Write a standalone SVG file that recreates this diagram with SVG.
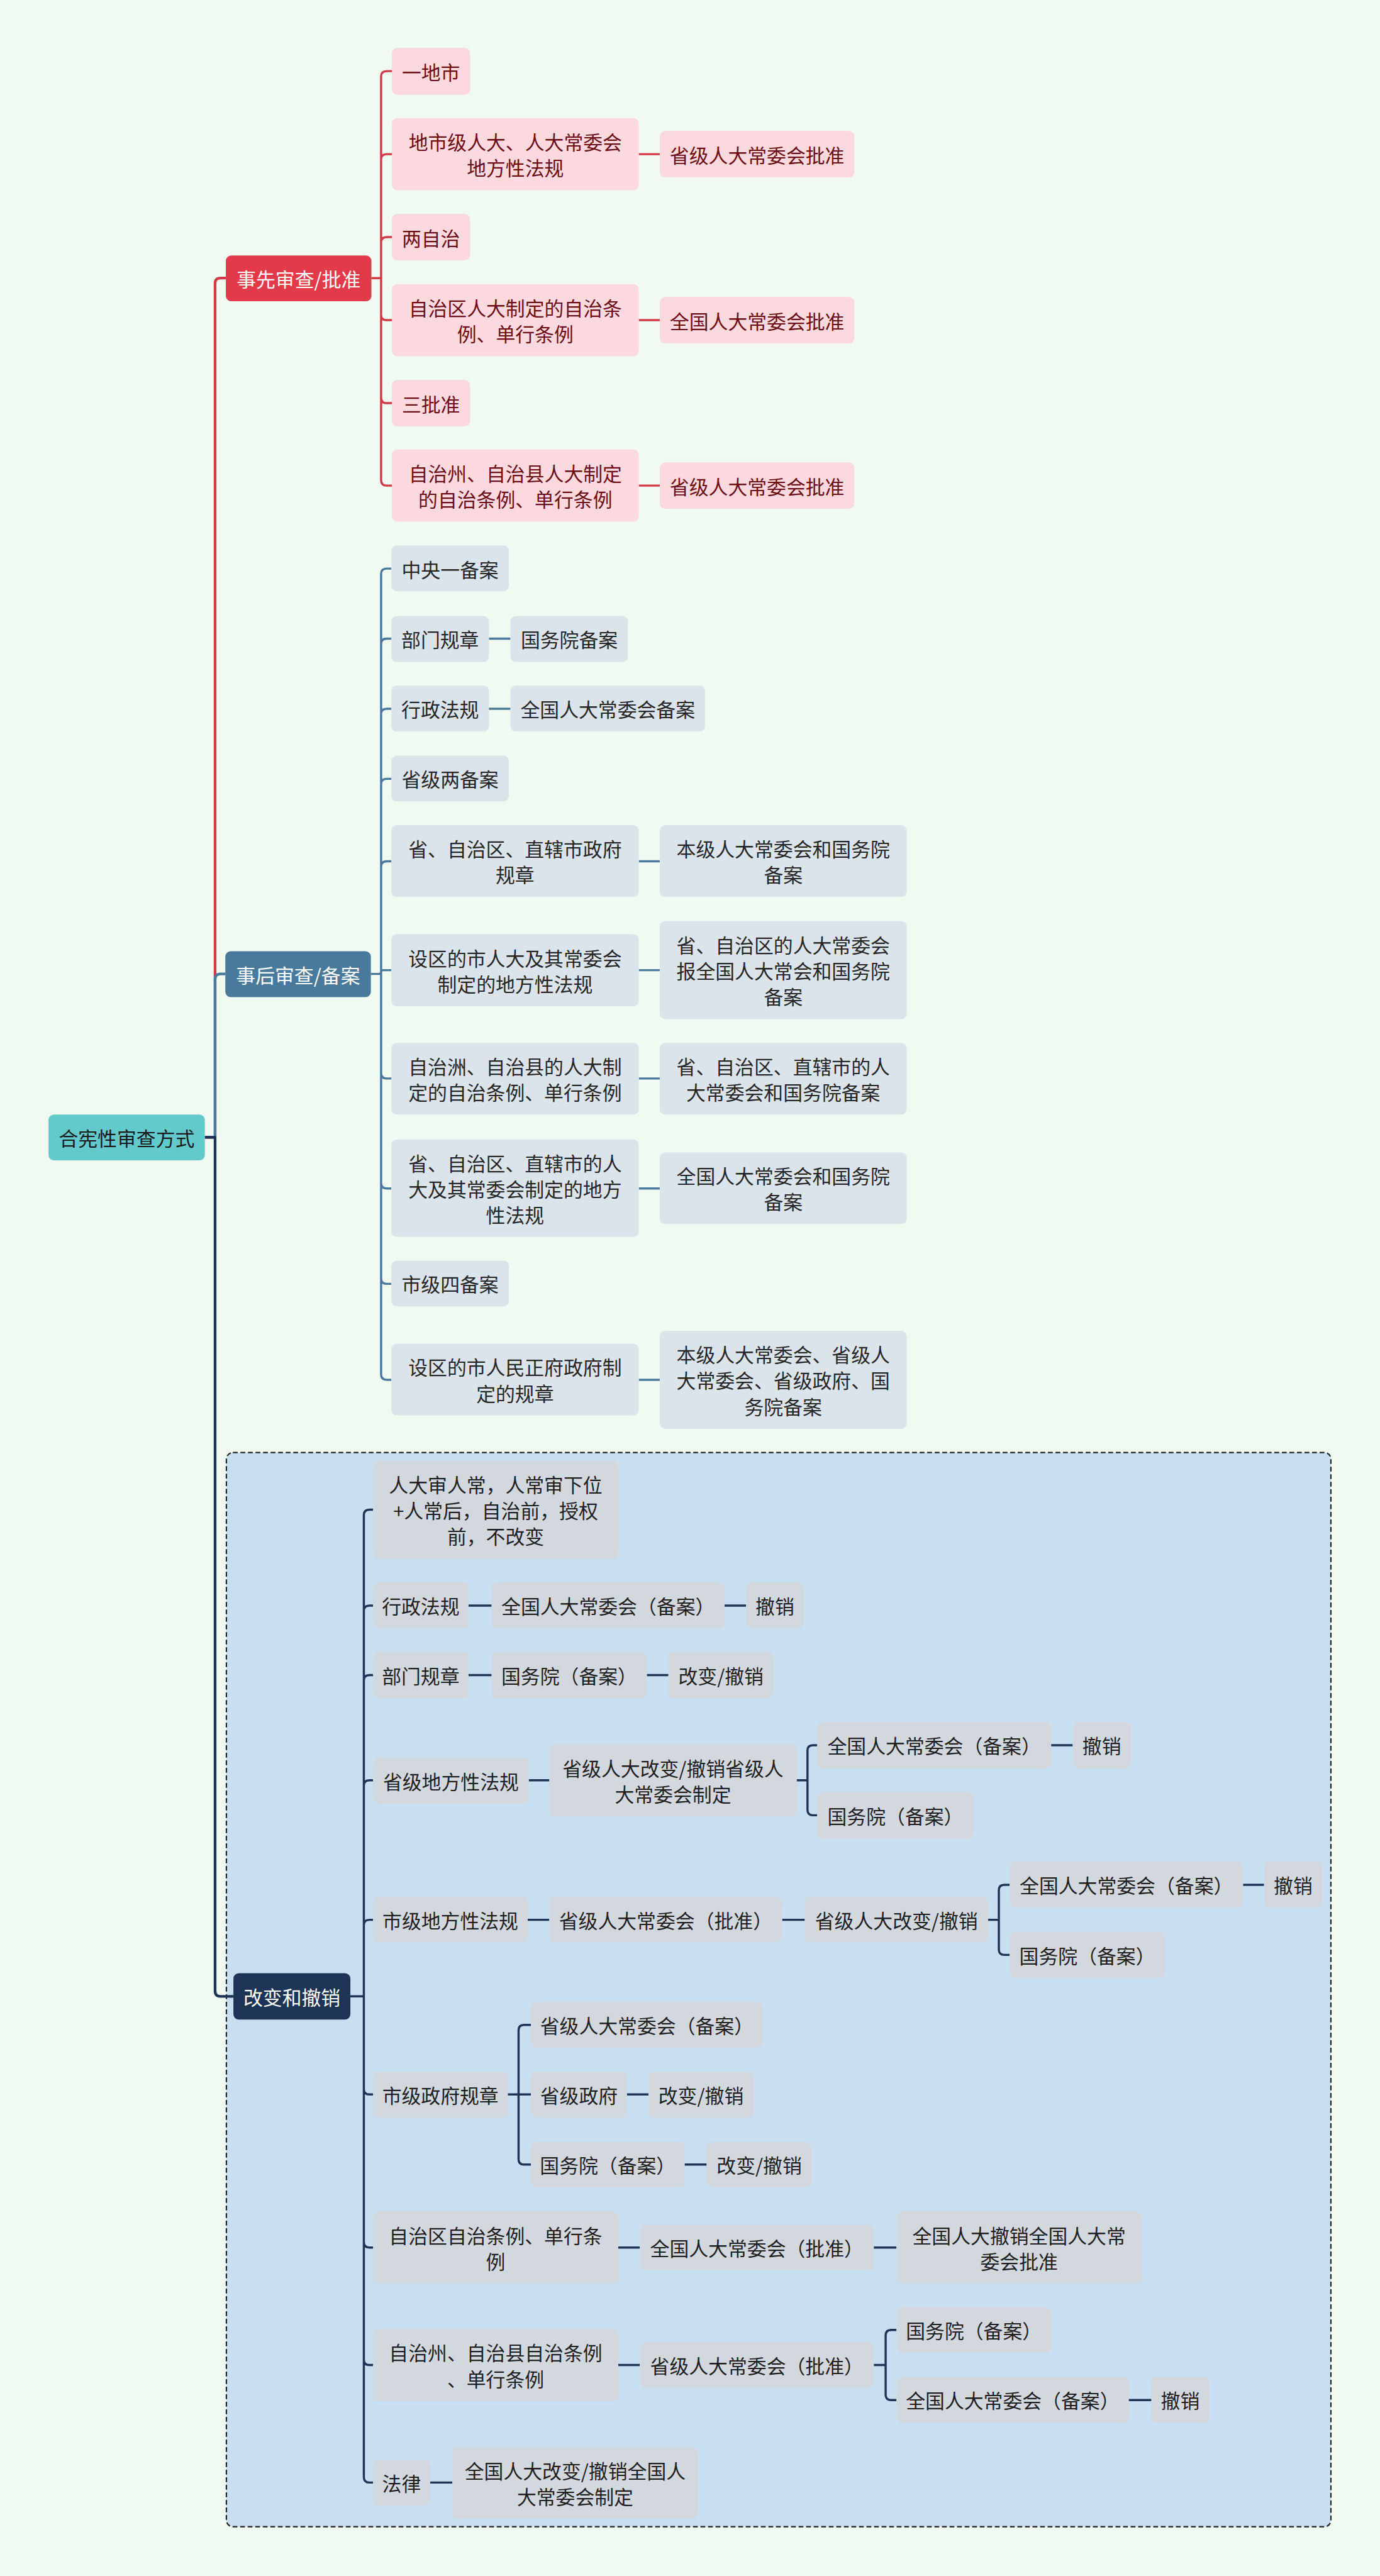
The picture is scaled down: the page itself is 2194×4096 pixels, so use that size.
<svg xmlns="http://www.w3.org/2000/svg" width="2194" height="4096" viewBox="0 0 2194 4096">
<style>
text{font-family:"Noto Sans CJK SC","Noto Sans",sans-serif;font-size:36px;text-anchor:middle;dominant-baseline:central}
.rt rect{fill:#63CACC}
.rt text{fill:#1a1a1a}
.m1 rect{fill:#E23A4A}
.m2 rect{fill:#4A7A9B}
.m3 rect{fill:#1D3456}
.m1 text,.m2 text,.m3 text{fill:#ffffff}
.pk rect{fill:#FBD9DE}
.pk text{fill:#6B0E16}
.bl rect{fill:#DCE4EB}
.bl text{fill:#262626}
.gr rect{fill:#D3D8DF}
.gr text{fill:#1f1f1f}
.c{fill:none;stroke-linecap:butt;stroke-linejoin:round}
.cr{stroke:#D33A48}
.cb{stroke:#4A7A9B}
.cn{stroke:#1D3456}
</style>
<rect x="0" y="0" width="2194" height="4096" fill="#F0FAF0"/>
<g transform="scale(0.857)">
<rect id="boundary" x="420" y="2695" width="2049" height="1993" rx="12" fill="#C8DFF1" stroke="#222" stroke-width="2.5" stroke-dasharray="9 5"/>
<g id="connectors">
<path class="c cr" stroke-width="5" d="M380 2110 H399 V526 Q399 516 409 516 H419"/>
<path class="c cb" stroke-width="5" d="M380 2110 H399 V1817 Q399 1807 409 1807 H418"/>
<path class="c cn" stroke-width="5" d="M380 2110 H399 V3694 Q399 3704 409 3704 H433"/>
<path class="c cr" stroke-width="4" d="M689 516 H707 V142 Q707 132 717 132 H727 M689 516 H707 V296 Q707 286 717 286 H727 M689 516 H707 V450 Q707 440 717 440 H727 M689 516 H707 V584 Q707 594 717 594 H727 M689 516 H707 V738 Q707 748 717 748 H727 M689 516 H707 V891 Q707 901 717 901 H727 M1185 286 H1224 M1185 594 H1224 M1185 901 H1224"/>
<path class="c cb" stroke-width="4" d="M688 1807 H707 V1065 Q707 1055 717 1055 H726 M688 1807 H707 V1195 Q707 1185 717 1185 H726 M688 1807 H707 V1325 Q707 1315 717 1315 H726 M688 1807 H707 V1455 Q707 1445 717 1445 H726 M688 1807 H707 V1608 Q707 1598 717 1598 H726 M688 1807 H703 Q707 1807 707 1803 Q707 1800 711 1800 H726 M688 1807 H707 V1991 Q707 2001 717 2001 H726 M688 1807 H707 V2195 Q707 2205 717 2205 H726 M688 1807 H707 V2372 Q707 2382 717 2382 H726 M688 1807 H707 V2550 Q707 2560 717 2560 H726 M907 1185 H947 M907 1315 H947 M1185 1598 H1224 M1185 1800 H1224 M1185 2001 H1224 M1185 2205 H1224 M1185 2560 H1224"/>
<path class="c cn" stroke-width="4" d="M650 3704 H675 V2811 Q675 2801 685 2801 H692 M650 3704 H675 V2989 Q675 2979 685 2979 H692 M650 3704 H675 V3118 Q675 3108 685 3108 H692 M650 3704 H675 V3313 Q675 3303 685 3303 H692 M650 3704 H675 V3572 Q675 3562 685 3562 H692 M650 3704 H675 V3876 Q675 3886 685 3886 H692 M650 3704 H675 V4160 Q675 4170 685 4170 H692 M650 3704 H675 V4378 Q675 4388 685 4388 H692 M650 3704 H675 V4596 Q675 4606 685 4606 H692"/>
<path class="c cn" stroke-width="4" d="M869 2979 H912 M1344 2979 H1384 M869 3108 H912 M1200 3108 H1240 M981 3303 H1019 M1478 3303 H1498 V3248 Q1498 3238 1508 3238 H1516 M1478 3303 H1498 V3358 Q1498 3368 1508 3368 H1516 M1950 3238 H1990 M979 3562 H1019 M1451 3562 H1493 M1833 3562 H1853 V3507 Q1853 3497 1863 3497 H1873 M1833 3562 H1853 V3617 Q1853 3627 1863 3627 H1873 M2306 3497 H2345 M942 3886 H962 V3767 Q962 3757 972 3757 H985 M942 3886 H985 M942 3886 H962 V4006 Q962 4016 972 4016 H985 M1163 3886 H1203 M1270 4016 H1311 M1147 4170 H1187 M1621 4170 H1663 M1147 4388 H1187 M1621 4388 H1643 V4333 Q1643 4323 1653 4323 H1663 M1621 4388 H1643 V4443 Q1643 4453 1653 4453 H1663 M2094 4453 H2136 M798 4606 H839"/>
</g>
<g id="root" class="rt"><rect x="90" y="2068" width="290" height="85" rx="10"/><text x="235" y="2110.5">合宪性审查方式</text></g>
<g id="n1" class="m1"><rect x="419" y="474" width="270" height="85" rx="10"/><text x="554" y="516.5">事先审查/批准</text></g>
<g id="n2" class="m2"><rect x="418" y="1765" width="270" height="85" rx="10"/><text x="553" y="1807.5">事后审查/备案</text></g>
<g id="n3" class="m3"><rect x="433" y="3661" width="217" height="86" rx="10"/><text x="541.5" y="3704">改变和撤销</text></g>

<g id="a1" class="pk"><rect x="727" y="89" width="145" height="87" rx="10"/><text x="799.5" y="132.5">一地市</text></g>
<g id="a2" class="pk"><rect x="727" y="219" width="458" height="134" rx="10"/><text x="956" y="262">地市级人大、人大常委会</text><text x="956" y="310">地方性法规</text></g>
<g id="a2r" class="pk"><rect x="1224" y="243" width="361" height="86" rx="10"/><text x="1404.5" y="286">省级人大常委会批准</text></g>
<g id="a3" class="pk"><rect x="727" y="397" width="145" height="86" rx="10"/><text x="799.5" y="440">两自治</text></g>
<g id="a4" class="pk"><rect x="727" y="527" width="458" height="134" rx="10"/><text x="956" y="570">自治区人大制定的自治条</text><text x="956" y="618">例、单行条例</text></g>
<g id="a4r" class="pk"><rect x="1224" y="551" width="361" height="86" rx="10"/><text x="1404.5" y="594">全国人大常委会批准</text></g>
<g id="a5" class="pk"><rect x="727" y="705" width="145" height="86" rx="10"/><text x="799.5" y="748">三批准</text></g>
<g id="a6" class="pk"><rect x="727" y="834" width="458" height="134" rx="10"/><text x="956" y="877">自治州、自治县人大制定</text><text x="956" y="925">的自治条例、单行条例</text></g>
<g id="a6r" class="pk"><rect x="1224" y="858" width="361" height="86" rx="10"/><text x="1404.5" y="901">省级人大常委会批准</text></g>

<g id="b1" class="bl"><rect x="726" y="1012" width="218" height="85" rx="10"/><text x="835" y="1055">中央一备案</text></g>
<g id="b2" class="bl"><rect x="726" y="1143" width="181" height="85" rx="10"/><text x="816.5" y="1185.5">部门规章</text></g>
<g id="b2r" class="bl"><rect x="947" y="1143" width="218" height="85" rx="10"/><text x="1056" y="1185.5">国务院备案</text></g>
<g id="b3" class="bl"><rect x="726" y="1272" width="181" height="85" rx="10"/><text x="816.5" y="1314.5">行政法规</text></g>
<g id="b3r" class="bl"><rect x="947" y="1272" width="361" height="85" rx="10"/><text x="1127.5" y="1314.5">全国人大常委会备案</text></g>
<g id="b4" class="bl"><rect x="726" y="1402" width="218" height="85" rx="10"/><text x="835" y="1444.5">省级两备案</text></g>
<g id="b5" class="bl"><rect x="726" y="1531" width="459" height="133" rx="10"/><text x="955.5" y="1573.5">省、自治区、直辖市政府</text><text x="955.5" y="1621.5">规章</text></g>
<g id="b5r" class="bl"><rect x="1224" y="1531" width="458" height="133" rx="10"/><text x="1453" y="1573.5">本级人大常委会和国务院</text><text x="1453" y="1621.5">备案</text></g>
<g id="b6" class="bl"><rect x="726" y="1733" width="459" height="134" rx="10"/><text x="955.5" y="1776">设区的市人大及其常委会</text><text x="955.5" y="1824">制定的地方性法规</text></g>
<g id="b6r" class="bl"><rect x="1224" y="1709" width="458" height="182" rx="10"/><text x="1453" y="1752">省、自治区的人大常委会</text><text x="1453" y="1800">报全国人大常会和国务院</text><text x="1453" y="1848">备案</text></g>
<g id="b7" class="bl"><rect x="726" y="1935" width="459" height="133" rx="10"/><text x="955.5" y="1977.5">自治洲、自治县的人大制</text><text x="955.5" y="2025.5">定的自治条例、单行条例</text></g>
<g id="b7r" class="bl"><rect x="1224" y="1935" width="458" height="133" rx="10"/><text x="1453" y="1977.5">省、自治区、直辖市的人</text><text x="1453" y="2025.5">大常委会和国务院备案</text></g>
<g id="b8" class="bl"><rect x="726" y="2114" width="459" height="181" rx="10"/><text x="955.5" y="2156.5">省、自治区、直辖市的人</text><text x="955.5" y="2204.5">大及其常委会制定的地方</text><text x="955.5" y="2252.5">性法规</text></g>
<g id="b8r" class="bl"><rect x="1224" y="2138" width="458" height="133" rx="10"/><text x="1453" y="2180.5">全国人大常委会和国务院</text><text x="1453" y="2228.5">备案</text></g>
<g id="b9" class="bl"><rect x="726" y="2339" width="218" height="85" rx="10"/><text x="835" y="2381.5">市级四备案</text></g>
<g id="b10" class="bl"><rect x="726" y="2493" width="459" height="133" rx="10"/><text x="955.5" y="2535.5">设区的市人民正府政府制</text><text x="955.5" y="2583.5">定的规章</text></g>
<g id="b10r" class="bl"><rect x="1224" y="2469" width="458" height="182" rx="10"/><text x="1453" y="2512">本级人大常委会、省级人</text><text x="1453" y="2560">大常委会、省级政府、国</text><text x="1453" y="2608">务院备案</text></g>

<g id="c1" class="gr"><rect x="692" y="2710" width="455" height="182" rx="10"/><text x="919.5" y="2753">人大审人常，人常审下位</text><text x="919.5" y="2801">+人常后，自治前，授权</text><text x="919.5" y="2849">前，不改变</text></g>
<g id="c2" class="gr"><rect x="692" y="2936" width="177" height="85" rx="10"/><text x="780.5" y="2978.5">行政法规</text></g>
<g id="c2a" class="gr"><rect x="912" y="2936" width="432" height="85" rx="10"/><text x="1128" y="2978.5">全国人大常委会（备案）</text></g>
<g id="c2b" class="gr"><rect x="1384" y="2936" width="107" height="85" rx="10"/><text x="1437.5" y="2978.5">撤销</text></g>
<g id="c3" class="gr"><rect x="692" y="3065" width="177" height="86" rx="10"/><text x="780.5" y="3108">部门规章</text></g>
<g id="c3a" class="gr"><rect x="912" y="3065" width="288" height="86" rx="10"/><text x="1056" y="3108">国务院（备案）</text></g>
<g id="c3b" class="gr"><rect x="1240" y="3065" width="195" height="86" rx="10"/><text x="1337.5" y="3108">改变/撤销</text></g>
<g id="c4" class="gr"><rect x="692" y="3261" width="289" height="85" rx="10"/><text x="836.5" y="3303.5">省级地方性法规</text></g>
<g id="c4a" class="gr"><rect x="1019" y="3236" width="459" height="134" rx="10"/><text x="1248.5" y="3279">省级人大改变/撤销省级人</text><text x="1248.5" y="3327">大常委会制定</text></g>
<g id="c4b" class="gr"><rect x="1516" y="3195" width="434" height="86" rx="10"/><text x="1733" y="3238">全国人大常委会（备案）</text></g>
<g id="c4c" class="gr"><rect x="1990" y="3195" width="108" height="86" rx="10"/><text x="2044" y="3238">撤销</text></g>
<g id="c4d" class="gr"><rect x="1516" y="3325" width="290" height="86" rx="10"/><text x="1661" y="3368">国务院（备案）</text></g>
<g id="c5" class="gr"><rect x="692" y="3519" width="287" height="85" rx="10"/><text x="835.5" y="3561.5">市级地方性法规</text></g>
<g id="c5a" class="gr"><rect x="1019" y="3519" width="432" height="85" rx="10"/><text x="1235" y="3561.5">省级人大常委会（批准）</text></g>
<g id="c5b" class="gr"><rect x="1493" y="3519" width="340" height="85" rx="10"/><text x="1663" y="3561.5">省级人大改变/撤销</text></g>
<g id="c5c" class="gr"><rect x="1873" y="3454" width="433" height="85" rx="10"/><text x="2089.5" y="3496.5">全国人大常委会（备案）</text></g>
<g id="c5d" class="gr"><rect x="2345" y="3454" width="108" height="85" rx="10"/><text x="2399" y="3496.5">撤销</text></g>
<g id="c5e" class="gr"><rect x="1873" y="3584" width="288" height="86" rx="10"/><text x="2017" y="3627">国务院（备案）</text></g>
<g id="c6" class="gr"><rect x="692" y="3844" width="250" height="85" rx="10"/><text x="817" y="3886.5">市级政府规章</text></g>
<g id="c6a" class="gr"><rect x="985" y="3714" width="430" height="85" rx="10"/><text x="1200" y="3756.5">省级人大常委会（备案）</text></g>
<g id="c6b" class="gr"><rect x="985" y="3844" width="178" height="85" rx="10"/><text x="1074" y="3886.5">省级政府</text></g>
<g id="c6c" class="gr"><rect x="1203" y="3844" width="195" height="85" rx="10"/><text x="1300.5" y="3886.5">改变/撤销</text></g>
<g id="c6d" class="gr"><rect x="985" y="3974" width="285" height="84" rx="10"/><text x="1127.5" y="4016">国务院（备案）</text></g>
<g id="c6e" class="gr"><rect x="1311" y="3974" width="195" height="84" rx="10"/><text x="1408.5" y="4016">改变/撤销</text></g>
<g id="c7" class="gr"><rect x="692" y="4103" width="455" height="134" rx="10"/><text x="919.5" y="4146">自治区自治条例、单行条</text><text x="919.5" y="4194">例</text></g>
<g id="c7a" class="gr"><rect x="1187" y="4128" width="434" height="84" rx="10"/><text x="1404" y="4170">全国人大常委会（批准）</text></g>
<g id="c7b" class="gr"><rect x="1663" y="4103" width="455" height="134" rx="10"/><text x="1890.5" y="4146">全国人大撤销全国人大常</text><text x="1890.5" y="4194">委会批准</text></g>
<g id="c8" class="gr"><rect x="692" y="4321" width="455" height="134" rx="10"/><text x="919.5" y="4364">自治州、自治县自治条例</text><text x="919.5" y="4412">、单行条例</text></g>
<g id="c8a" class="gr"><rect x="1187" y="4345" width="434" height="86" rx="10"/><text x="1404" y="4388">省级人大常委会（批准）</text></g>
<g id="c8b" class="gr"><rect x="1663" y="4281" width="287" height="84" rx="10"/><text x="1806.5" y="4323">国务院（备案）</text></g>
<g id="c8c" class="gr"><rect x="1663" y="4410" width="431" height="85" rx="10"/><text x="1878.5" y="4452.5">全国人大常委会（备案）</text></g>
<g id="c8d" class="gr"><rect x="2136" y="4410" width="107" height="85" rx="10"/><text x="2189.5" y="4452.5">撤销</text></g>
<g id="c9" class="gr"><rect x="692" y="4564" width="106" height="85" rx="10"/><text x="745" y="4606.5">法律</text></g>
<g id="c9a" class="gr"><rect x="839" y="4540" width="456" height="133" rx="10"/><text x="1067" y="4582.5">全国人大改变/撤销全国人</text><text x="1067" y="4630.5">大常委会制定</text></g>
</g>
</svg>
